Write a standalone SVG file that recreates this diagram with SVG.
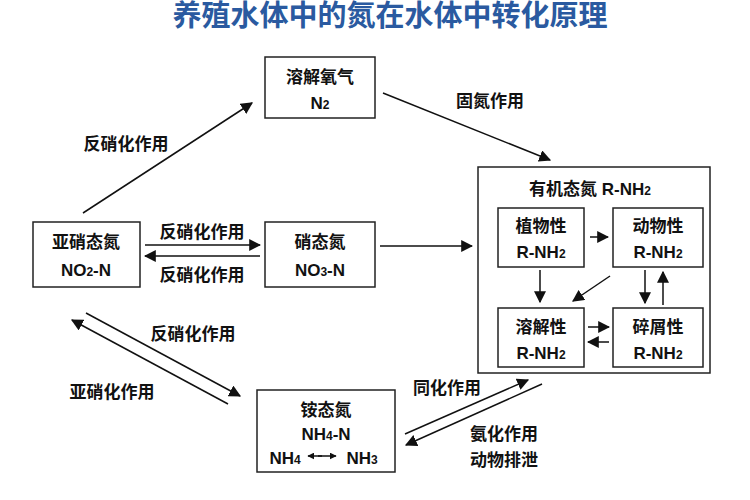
<svg xmlns="http://www.w3.org/2000/svg" width="750" height="500" viewBox="0 0 750 500">
<defs>
<marker id="ah" viewBox="0 0 10 10" refX="9" refY="5" markerWidth="7" markerHeight="7" markerUnits="userSpaceOnUse" orient="auto"><path d="M0,0 L10,5 L0,10 z" fill="#111"/></marker>
<marker id="ahb" viewBox="0 0 10 10" refX="9" refY="5" markerWidth="12" markerHeight="12" markerUnits="userSpaceOnUse" orient="auto"><path d="M0,0 L10,5 L0,10 z" fill="#111"/></marker>
</defs>
<style>
text{font-family:"Liberation Sans","Noto Sans CJK SC",sans-serif;font-size:17px;font-weight:bold;fill:#111;text-anchor:middle}
.box{fill:#fff;stroke:#222;stroke-width:1.5}
.c line{stroke:#111;stroke-width:1.5;marker-end:url(#ahb)}
.t{font-size:29px;fill:#2a5aa0}
</style>
<rect width="750" height="500" fill="#fff"/>
<text class="t" x="390" y="26">养殖水体中的氮在水体中转化原理</text>
<g id="n2"><rect class="box" x="265" y="57" width="110" height="61"/><text x="320" y="83">溶解氧气</text><text x="320" y="109">N<tspan font-size="12">2</tspan></text></g>
<g id="no2"><rect class="box" x="33" y="222" width="107" height="65"/><text x="86" y="248">亚硝态氮</text><text x="86" y="276">NO<tspan font-size="12">2</tspan>-N</text></g>
<g id="no3"><rect class="box" x="265" y="222" width="110" height="65"/><text x="320" y="248">硝态氮</text><text x="320" y="276">NO<tspan font-size="12">3</tspan>-N</text></g>
<g id="org"><rect class="box" x="478" y="167" width="232" height="206"/><text x="590" y="195">有机态氮  R-NH<tspan font-size="12">2</tspan></text></g>
<g id="plant"><rect class="box" x="498" y="208" width="86" height="59"/><text x="541" y="232">植物性</text><text x="541" y="258">R-NH<tspan font-size="12">2</tspan></text></g>
<g id="animal"><rect class="box" x="613" y="208" width="90" height="59"/><text x="658" y="232">动物性</text><text x="658" y="258">R-NH<tspan font-size="12">2</tspan></text></g>
<g id="dis"><rect class="box" x="498" y="308" width="86" height="59"/><text x="541" y="333">溶解性</text><text x="541" y="359">R-NH<tspan font-size="12">2</tspan></text></g>
<g id="det"><rect class="box" x="613" y="308" width="90" height="59"/><text x="658" y="333">碎屑性</text><text x="658" y="359">R-NH<tspan font-size="12">2</tspan></text></g>
<g id="nh4"><rect class="box" x="257" y="390" width="138" height="82"/><text x="326" y="416">铵态氮</text><text x="326" y="440">NH<tspan font-size="12">4</tspan>-N</text><text x="285" y="464">NH<tspan font-size="12">4</tspan></text><text x="362" y="464">NH<tspan font-size="12">3</tspan></text></g>
<g class="c">
<line x1="83" y1="213" x2="252" y2="103"/>
<line x1="383" y1="93" x2="550" y2="160"/>
<line x1="145" y1="245" x2="260" y2="245"/>
<line x1="260" y1="256" x2="145" y2="256"/>
<line x1="380" y1="246" x2="472" y2="246"/>
<line x1="590" y1="237" x2="608" y2="237"/>
<line x1="540" y1="270" x2="540" y2="302"/>
<line x1="610" y1="276" x2="573" y2="301"/>
<line x1="645" y1="270" x2="645" y2="303"/>
<line x1="663" y1="305" x2="663" y2="272"/>
<line x1="588" y1="327" x2="609" y2="327"/>
<line x1="609" y1="342" x2="588" y2="342"/>
<line x1="228" y1="404" x2="72" y2="320"/>
<line x1="86" y1="313" x2="240" y2="396"/>
<line x1="405" y1="434" x2="528" y2="380"/>
<line x1="542" y1="384" x2="406" y2="445"/>
<line x1="322" y1="456" x2="308" y2="456" style="marker-end:url(#ah)"/>
<line x1="318" y1="456" x2="336" y2="456" style="marker-end:url(#ah)"/>
</g>
<g id="labels">
<text x="126" y="150">反硝化作用</text>
<text x="490" y="107">固氮作用</text>
<text x="202" y="238">反硝化作用</text>
<text x="202" y="281">反硝化作用</text>
<text x="193" y="340">反硝化作用</text>
<text x="112" y="398">亚硝化作用</text>
<text x="447" y="394">同化作用</text>
<text x="504" y="440">氨化作用</text>
<text x="504" y="466">动物排泄</text>
</g>
</svg>
